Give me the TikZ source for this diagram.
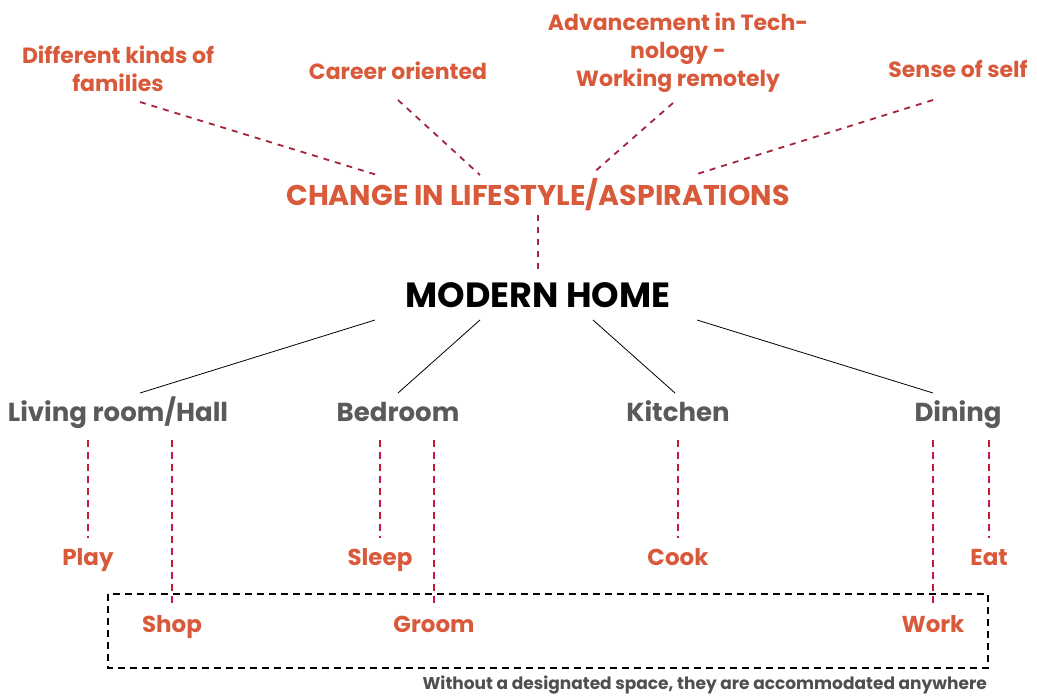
\documentclass[tikz,border=0pt]{standalone}
\usepackage{fontspec}
\setmainfont{Poppins}
\usetikzlibrary{calc}
\definecolor{txtorange}{HTML}{D85A3B}
\definecolor{maroon}{HTML}{A3253A}
\definecolor{crimson}{HTML}{C8173A}
\definecolor{roomgray}{HTML}{5A5A5A}
\definecolor{capgray}{HTML}{4F4F4F}
\tikzset{
  factor/.style={text=txtorange, font=\bfseries\fontsize{22}{28}\selectfont, align=center, inner sep=0pt, anchor=base},
  bigtitle/.style={text=txtorange, font=\bfseries\fontsize{28.5}{32}\selectfont, inner sep=0pt, anchor=base},
  hometitle/.style={text=black, font=\bfseries\fontsize{35}{40}\selectfont, inner sep=0pt, anchor=base},
  room/.style={text=roomgray, font=\bfseries\fontsize{26}{30}\selectfont, inner sep=0pt, anchor=base},
  activity/.style={text=txtorange, font=\bfseries\fontsize{23}{26}\selectfont, inner sep=0pt, anchor=base},
  caption/.style={text=capgray, font=\bfseries\fontsize{17}{20}\selectfont, inner sep=0pt, anchor=base east},
  upperlink/.style={draw=maroon, line width=1.8pt, dash pattern=on 6pt off 6pt},
  lowerlink/.style={draw=crimson, line width=1.8pt, dash pattern=on 7pt off 5pt},
  solidlink/.style={draw=black, line width=0.8pt},
  groupbox/.style={draw=black, line width=1.5pt, dash pattern=on 7pt off 5pt},
}
\begin{document}
\begin{tikzpicture}[x=1pt,y=-1pt]
\useasboundingbox[fill=white] (0,0) rectangle (1037,698);

% top factors
\node[factor] (fam) at (118,92) {Different kinds of\\families};
\node[factor] (career) at (398,80) {Career oriented};
\node[factor] (tech) at (678,87) {Advancement in Tech-\\nology -\\Working remotely};
\node[factor] (self) at (958,78) {Sense of self};

\node[bigtitle] (change) at (538,205) {CHANGE IN LIFESTYLE/ASPIRATIONS};
\node[hometitle] (home) at (538,307) {MODERN HOME};

% rooms
\node[room] (living) at (118,421) {Living room/Hall};
\node[room] (bed) at (398,421) {Bedroom};
\node[room] (kitchen) at (678,421) {Kitchen};
\node[room] (dining) at (958,421) {Dining};

% activities
\node[activity] (play) at (88,565) {Play};
\node[activity] (sleep) at (380,565) {Sleep};
\node[activity] (cook) at (678,565) {Cook};
\node[activity] (eat) at (989,565) {Eat};
\node[activity] (shop) at (172,632) {Shop};
\node[activity] (groom) at (434,632) {Groom};
\node[activity] (work) at (933,632) {Work};

\node[caption] (cap) at (987,689) {Without a designated space, they are accommodated anywhere};

% connector end points
\coordinate (famE) at (140,102);
\coordinate (chgA) at (377,175);
\coordinate (carE) at (398,100);
\coordinate (chgB) at (480,175);
\coordinate (techE) at (673,103);
\coordinate (chgC) at (592,174);
\coordinate (selfE) at (933,100);
\coordinate (chgD) at (697,174);
\coordinate (chgS) at (538,215);
\coordinate (homeN) at (538,270);

\coordinate (homeA) at (375,320);
\coordinate (homeB) at (480,320);
\coordinate (homeC) at (593,320);
\coordinate (homeD) at (697,320);
\coordinate (livN) at (140,393);
\coordinate (bedN) at (398,393);
\coordinate (kitN) at (675,393);
\coordinate (dinN) at (933,393);

% upper dashed links
\draw[upperlink] (famE) -- (chgA);
\draw[upperlink] (carE) -- (chgB);
\draw[upperlink] (techE) -- (chgC);
\draw[upperlink] (selfE) -- (chgD);
\draw[upperlink] (chgS) -- (homeN);

% solid links
\draw[solidlink] (homeA) -- (livN);
\draw[solidlink] (homeB) -- (bedN);
\draw[solidlink] (homeC) -- (kitN);
\draw[solidlink] (homeD) -- (dinN);

% lower dashed links
\draw[lowerlink] (88,440) -- (play.north |- 0,538);
\draw[lowerlink] (172,440) -- (shop.north |- 0,607);
\draw[lowerlink] (380,440) -- (sleep.north |- 0,538);
\draw[lowerlink] (434,440) -- (groom.north |- 0,607);
\draw[lowerlink] (678,440) -- (cook.north |- 0,538);
\draw[lowerlink] (933,440) -- (work.north |- 0,607);
\draw[lowerlink] (989,440) -- (eat.north |- 0,538);

% group box
\draw[groupbox] (108,594) rectangle (988,668);
\end{tikzpicture}
\end{document}
